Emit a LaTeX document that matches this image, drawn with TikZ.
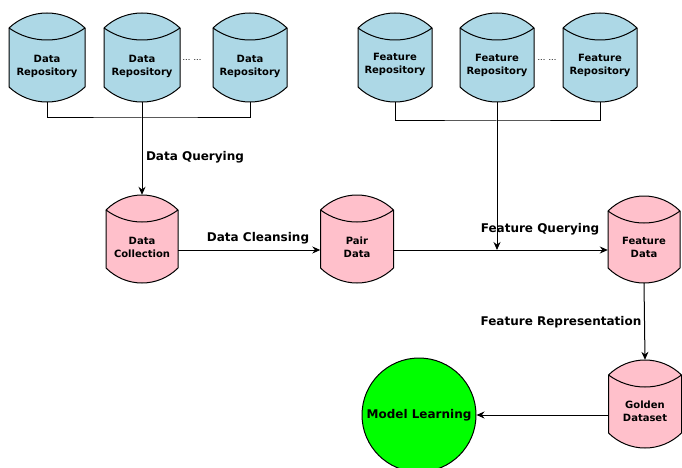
\documentclass[tikz,border=0pt]{standalone}
\usepackage{fontspec}
\setmainfont{DejaVu Sans}
\usetikzlibrary{arrows.meta}
\definecolor{repoblue}{HTML}{ADD8E6}
\definecolor{storepink}{HTML}{FFC0CB}
\definecolor{learngreen}{HTML}{00FF00}

\tikzset{
  drumline/.style={draw=black, line width=1pt, line join=miter},
  drumbox/.style={inner sep=0pt, draw=none},
  drumtext/.style={inner sep=0pt, align=center, font=\bfseries\fontsize{10}{13}\selectfont},
  lab/.style={inner sep=0pt, font=\bfseries\fontsize{12}{14}\selectfont},
  dots/.style={inner sep=0pt, font=\fontsize{8}{10}\selectfont},
  wire/.style={draw=black, line width=1pt},
  flow/.style={wire, -{Stealth[length=8pt,width=7pt]}},
}

% Storage drum: #1 name, #2 centre x, #3 top, #4 bottom, #5 width, #6 fill, #7 text, #8 text offset
\newcommand\drum[8]{%
  \pgfmathsetmacro\drL{#2-#5/2}%
  \pgfmathsetmacro\drR{#2+#5/2}%
  \pgfmathsetmacro\drLc{#2-#5/2+0.28*#5}%
  \pgfmathsetmacro\drRc{#2+#5/2-0.28*#5}%
  \pgfmathsetmacro\drLi{#2-#5/2+0.3*#5}%
  \pgfmathsetmacro\drRi{#2+#5/2-0.3*#5}%
  \pgfmathsetmacro\drTa{#3+15}%
  \pgfmathsetmacro\drTc{#3-5}%
  \pgfmathsetmacro\drIc{#3+15+16}%
  \pgfmathsetmacro\drBa{#4-15}%
  \pgfmathsetmacro\drBc{#4+5}%
  \pgfmathsetmacro\drCy{(#3+#4)/2}%
  \pgfmathsetmacro\drH{#4-#3}%
  \draw[drumline, fill=#6] (\drL,\drTa) .. controls (\drLc,\drTc) and (\drRc,\drTc) .. (\drR,\drTa)
    -- (\drR,\drBa) .. controls (\drRc,\drBc) and (\drLc,\drBc) .. (\drL,\drBa) -- cycle;
  \draw[drumline] (\drL,\drTa) .. controls (\drLi,\drIc) and (\drRi,\drIc) .. (\drR,\drTa);
  \node[drumbox, minimum width=#5pt, minimum height=\drH pt] (#1) at (#2,\drCy) {};
  \node[drumtext] (#1-text) at (#2,#3+#8) {#7};
}

\begin{document}
\begin{tikzpicture}[x=1pt, y=-1pt]
  \useasboundingbox (0,0) rectangle (682,468);

  % data repositories
  \drum{dr1}{47}{13}{102}{76}{repoblue}{Data\\Repository}{53}
  \drum{dr2}{142}{13}{102}{76}{repoblue}{Data\\Repository}{53}
  \drum{dr3}{250}{13}{102}{74}{repoblue}{Data\\Repository}{53}
  \node[dots] (ddots) at (192,60) {... ...};

  % feature repositories
  \drum{fr1}{395}{13}{102}{74}{repoblue}{Feature\\Repository}{51}
  \drum{fr2}{497}{13}{102}{74}{repoblue}{Feature\\Repository}{52}
  \drum{fr3}{600}{13}{102}{74}{repoblue}{Feature\\Repository}{52}
  \node[dots] (fdots) at (547,60) {... ...};

  % intermediate stores
  \drum{dc}{142}{195}{283}{72}{storepink}{Data\\Collection}{52}
  \drum{pd}{357}{195}{283}{73}{storepink}{Pair\\Data}{52}
  \drum{fd}{644}{196}{283}{72}{storepink}{Feature\\Data}{51}
  \drum{gd}{645}{360}{448}{73}{storepink}{Golden\\Dataset}{51}

  % model learning
  \node[circle, draw=black, line width=1pt, fill=learngreen, minimum size=114pt, inner sep=0pt,
        font=\bfseries\fontsize{12}{14}\selectfont] (ml) at (419,415) {Model Learning};

  % bus coordinates
  \coordinate (dbus) at (142,118);
  \coordinate (fbus) at (497,121);
  \coordinate (row) at (0,250);
  \coordinate (fjoin) at (497,250);

  % repository buses
  \draw[wire] (dr1.south) |- (dbus) -| (dr3.south);
  \draw[wire] (dr2.south) -- (dbus);
  \draw[flow] (dbus) -- (dc.north);
  \draw[wire] (fr1.south) |- (fbus) -| (fr3.south);
  \draw[wire] (fr2.south) -- (fbus);
  \draw[flow] (fbus) -- (fjoin);

  % main flow
  \draw[flow] (dc.east |- row) -- (pd.west |- row);
  \draw[flow] (pd.east |- row) -- (fd.west |- row);
  \draw[flow] (fd.south) -- (gd.north);
  \draw[flow] (gd.west |- ml.east) -- (ml.east);

  % step labels
  \node[lab] (lquery) at (195,157) {Data Querying};
  \node[lab] (lclean) at (258,238) {Data Cleansing};
  \node[lab] (lfquery) at (540,229) {Feature Querying};
  \node[lab] (lrep) at (561,322) {Feature Representation};
\end{tikzpicture}
\end{document}
